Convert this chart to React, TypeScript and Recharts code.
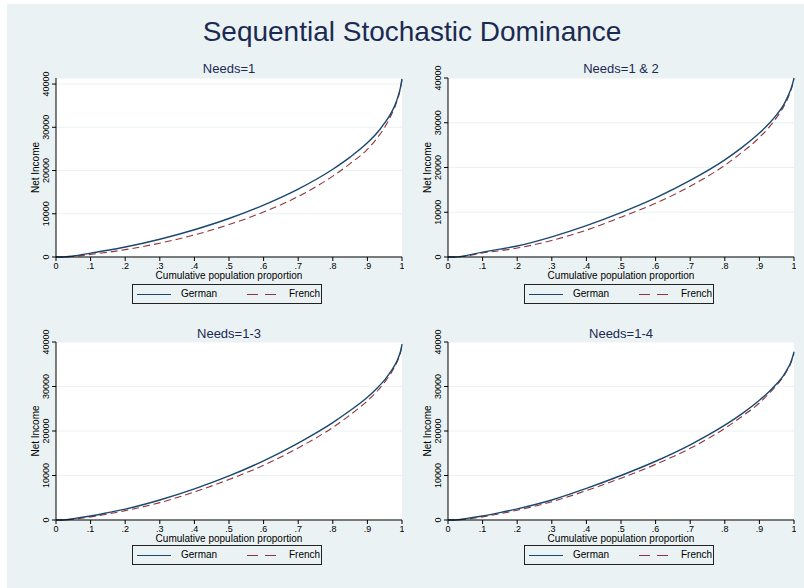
import React from 'react';
import { LineChart, Line, XAxis, YAxis, CartesianGrid } from 'recharts';

// cumulative population proportion
const props_p = [0, 0.02, 0.05, 0.1, 0.15, 0.2, 0.3, 0.4, 0.5, 0.6, 0.7, 0.8, 0.85, 0.9, 0.93, 0.95, 0.97, 0.98, 0.99, 0.995, 1];

const german1 = [0, 0, 250, 900, 1550, 2300, 4100, 6300, 8900, 12000, 15700, 20300, 23100, 26400, 28900, 31000, 33500, 35200, 37500, 39000, 41200];
const french1 = [0, 0, 150, 600, 1100, 1700, 3200, 5100, 7500, 10400, 14000, 18700, 21600, 24900, 27700, 30000, 33000, 34800, 37200, 38800, 41000];

const german12 = [0, 0, 300, 1100, 1750, 2450, 4500, 7000, 9900, 13200, 17100, 21700, 24500, 27700, 30000, 31800, 34000, 35500, 37300, 38500, 40000];
const french12 = [0, 0, 200, 900, 1400, 2000, 3700, 6000, 8900, 12000, 15800, 20500, 23400, 26700, 29200, 31200, 33600, 35100, 37000, 38200, 39700];

const german13 = [0, 0, 300, 900, 1650, 2450, 4500, 7000, 9900, 13300, 17300, 21900, 24600, 27600, 29800, 31500, 33600, 34900, 36600, 37700, 39500];
const french13 = [0, 0, 200, 700, 1350, 2100, 3900, 6300, 9100, 12300, 16200, 20800, 23600, 26800, 29100, 31000, 33200, 34600, 36300, 37400, 39200];

const german14 = [0, 0, 300, 900, 1650, 2500, 4500, 7100, 10000, 13200, 16900, 21300, 23900, 26900, 29000, 30600, 32500, 33800, 35300, 36400, 37800];
const french14 = [0, 0, 200, 700, 1400, 2200, 4100, 6600, 9400, 12500, 16100, 20600, 23300, 26300, 28600, 30300, 32300, 33600, 35100, 36200, 37400];

const xTicks = [0, 0.1, 0.2, 0.3, 0.4, 0.5, 0.6, 0.7, 0.8, 0.9, 1];
const yTicks = [0, 10000, 20000, 30000, 40000];

const FONT = '"Liberation Sans", Arial, Helvetica, sans-serif';
const NAVY = '#1a476f';
const MAROON = '#90353b';
const BG = '#eaf2f3';

const build = (g: number[], f: number[]) => props_p.map((p, i) => ({ p, german: g[i], french: f[i] }));

const fmtX = (v: number) => (v === 0 ? '0' : v === 1 ? '1' : String(Math.round(v * 10) / 10).replace(/^0/, ''));

const YTick = ({ x, y, payload }: any) => (
  <text x={x - 1} y={y} transform={`rotate(-90 ${x - 1} ${y})`} textAnchor="middle" fontSize={9} fill="#000" fontFamily={FONT}>
    {payload.value}
  </text>
);

function Panel({ title, data, left, top, yMax }: { title: string; data: any[]; left: number; top: number; yMax: number }) {
  const isLeft = left === 0;
  const ml = isLeft ? 26 : 18;
  const width = isLeft ? 404 : 396;
  const mt = top === 55 ? 23 : 22;
  const height = top === 55 ? 227 : 225;
  const plotL = left + ml + 30;
  const plotR = left + width - 2;
  const cx = (plotL + plotR) / 2;
  const legTop = top === 55 ? 284 : 545;
  return (
    <>
      <div style={{ position: 'absolute', left: cx - 100, width: 200, top: top + 6, textAlign: 'center', fontSize: 13, color: '#1c2a52', fontFamily: FONT }}>{title}</div>
      <div style={{ position: 'absolute', left, top }}>
        <LineChart width={width} height={height} data={data} margin={{ top: mt, right: 2, left: ml, bottom: 0 }}>
          <CartesianGrid vertical={false} stroke={BG} strokeWidth={1} fill="#fff" />
          <XAxis
            dataKey="p"
            type="number"
            domain={[0, 1]}
            ticks={xTicks}
            tickFormatter={fmtX}
            height={25}
            tickSize={4}
            stroke="#000"
            tick={{ fill: '#000', fontSize: 9, fontFamily: FONT }}
            interval={0}
            label={({ viewBox }: any) => (
              <text x={viewBox.x + viewBox.width / 2} y={viewBox.y + 22} textAnchor="middle" fontSize={10} fill="#000" fontFamily={FONT}>
                Cumulative population proportion
              </text>
            )}
          />
          <YAxis
            type="number"
            domain={[0, yMax]}
            ticks={yTicks}
            width={30}
            tickSize={4}
            stroke="#000"
            tick={<YTick />}
            interval={0}
            label={({ viewBox }: any) => {
              const x = viewBox.x + 13;
              const y = viewBox.y + viewBox.height / 2;
              return (
                <text x={x} y={y} transform={`rotate(-90 ${x} ${y})`} textAnchor="middle" fontSize={10} fill="#000" fontFamily={FONT}>
                  Net Income
                </text>
              );
            }}
          />
          <Line type="monotone" dataKey="french" stroke={MAROON} strokeWidth={1.1} strokeDasharray="7 4" dot={false} isAnimationActive={false} />
          <Line type="monotone" dataKey="german" stroke={NAVY} strokeWidth={1.4} dot={false} isAnimationActive={false} />
        </LineChart>
      </div>
      <div
        style={{
          position: 'absolute',
          left: plotL + 76,
          top: legTop,
          width: 188,
          height: 18,
          border: '1px solid #222',
          background: BG,
          fontFamily: FONT,
          fontSize: 10,
          color: '#000',
        }}
      >
        <svg width={188} height={18} style={{ position: 'absolute', left: 0, top: 0 }}>
          <line x1={4} x2={38} y1={9.5} y2={9.5} stroke={NAVY} strokeWidth={1.2} />
          <line x1={114} x2={143} y1={9.5} y2={9.5} stroke={MAROON} strokeWidth={1.2} strokeDasharray="11 7" />
        </svg>
        <span style={{ position: 'absolute', left: 48, top: 3 }}>German</span>
        <span style={{ position: 'absolute', left: 156, top: 3 }}>French</span>
      </div>
    </>
  );
}

export default function App() {
  return (
    <div style={{ position: 'absolute', left: 0, top: 0, width: 804, height: 588, background: '#fff', overflow: 'hidden' }}>
      <div style={{ position: 'absolute', left: 7, top: 4, width: 797, height: 584, background: BG }} />
      <div style={{ position: 'absolute', left: 0, width: 824, top: 16, textAlign: 'center', fontSize: 28, color: '#1c2a52', fontFamily: FONT }}>
        Sequential Stochastic Dominance
      </div>
      <Panel title="Needs=1" data={build(german1, french1)} left={0} top={55} yMax={41400} />
      <Panel title="Needs=1 & 2" data={build(german12, french12)} left={400} top={55} yMax={40000} />
      <Panel title="Needs=1-3" data={build(german13, french13)} left={0} top={320} yMax={40000} />
      <Panel title="Needs=1-4" data={build(german14, french14)} left={400} top={320} yMax={40000} />
    </div>
  );
}
